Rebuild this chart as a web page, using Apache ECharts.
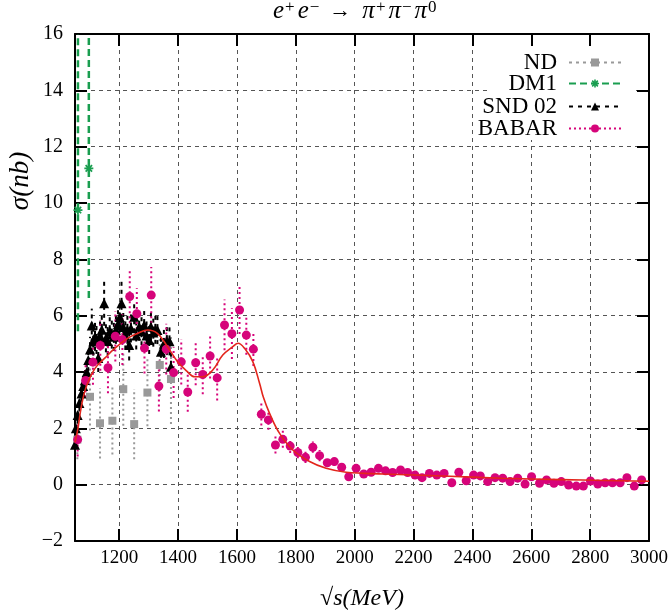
<!DOCTYPE html>
<html>
<head>
<meta charset="utf-8">
<title>e+e- → π+π-π0</title>
<script src="https://cdn.jsdelivr.net/npm/echarts@6/dist/echarts.min.js"></script>
<style>
html, body { margin: 0; padding: 0; background: #fff; }
#chart { width: 671px; height: 616px; }
</style>
</head>
<body>
<div id="chart"></div>
<script>
// ND
const ndX = [1058, 1101, 1135, 1177, 1214, 1251, 1296, 1338, 1376]
const ndY = [1.6, 3.12, 2.18, 2.27, 3.39, 2.15, 3.27, 4.25, 3.75]
const ndErr = [0.7, 1.2, 1.25, 1.2, 1.3, 1.25, 1.2, 1.1, 1.6]

// DM1
const dmX = [1060, 1097]
const dmY = [9.75, 11.23]
const dmErrLow = [4.3, 4.6]
const dmErrHigh = [6.25, 4.77]

// SND 02
const sndX = [1050, 1053, 1059, 1065, 1072, 1078, 1084, 1090, 1095, 1101,
  1107, 1112, 1118, 1123, 1129, 1135, 1141, 1149, 1155, 1161,
  1168, 1175, 1182, 1189, 1196, 1202, 1208, 1214, 1221, 1228,
  1234, 1240, 1251, 1258, 1268, 1276, 1285, 1293, 1302, 1308,
  1316, 1323, 1330, 1342, 1352, 1362, 1371, 1376]
const sndY = [1.42, 2.0, 2.47, 2.9, 3.24, 3.5, 3.72, 4.0, 4.43, 4.8,
  5.65, 5.08, 5.25, 5.14, 4.5, 5.3, 5.5, 6.44, 5.2, 5.1,
  5.45, 5.33, 5.25, 5.5, 5.7, 5.95, 6.44, 5.6, 5.3, 5.5,
  4.96, 5.55, 5.96, 5.3, 5.61, 5.45, 5.67, 5.3, 5.14, 5.61,
  5.4, 5.5, 5.49, 4.72, 5.0, 5.1, 5.09, 4.19]
const sndErr = [0.3, 0.3, 0.3, 0.3, 0.3, 0.35, 0.35, 0.4, 0.4, 0.45,
  0.6, 0.5, 0.5, 0.5, 0.5, 0.5, 0.5, 0.8, 0.5, 0.5,
  0.5, 0.5, 0.5, 0.5, 0.5, 0.55, 0.8, 0.5, 0.5, 0.5,
  0.55, 0.5, 0.55, 0.5, 0.5, 0.5, 0.5, 0.5, 0.5, 0.5,
  0.5, 0.5, 0.5, 0.5, 0.5, 0.5, 0.5, 0.5]

// BABAR
const bbX = [1059, 1086, 1111, 1136, 1162, 1187, 1211, 1236, 1260, 1286,
  1309, 1335, 1360, 1385, 1411, 1433, 1460, 1484, 1509, 1533,
  1558, 1583, 1609, 1632, 1656, 1683, 1707, 1731, 1756, 1781,
  1807, 1833, 1858, 1881, 1907, 1931, 1956, 1980, 2005, 2031,
  2056, 2081, 2105, 2129, 2156, 2180, 2205, 2229, 2254, 2279,
  2304, 2330, 2354, 2379, 2404, 2427, 2452, 2477, 2503, 2528,
  2554, 2579, 2601, 2628, 2652, 2677, 2702, 2727, 2753, 2777,
  2801, 2826, 2851, 2876, 2902, 2925, 2950, 2975]
const bbY = [1.6, 3.7, 4.35, 4.94, 4.15, 5.27, 5.15, 6.68, 6.07, 4.85,
  6.73, 3.5, 4.81, 3.98, 4.36, 3.29, 4.33, 3.91, 4.57, 3.79,
  5.67, 5.36, 6.2, 5.31, 4.81, 2.5, 2.3, 1.41, 1.61, 1.37,
  1.14, 0.97, 1.33, 1.03, 0.78, 0.82, 0.62, 0.28, 0.58, 0.38,
  0.44, 0.58, 0.49, 0.43, 0.52, 0.43, 0.34, 0.25, 0.4, 0.34,
  0.4, 0.07, 0.44, 0.14, 0.34, 0.31, 0.11, 0.25, 0.23, 0.11,
  0.23, 0.02, 0.28, 0.05, 0.17, 0.05, 0.11, -0.01, -0.05, -0.05,
  0.13, 0.02, 0.07, 0.07, 0.07, 0.25, -0.05, 0.17]
const bbErr = [0.6, 0.6, 0.8, 0.9, 0.9, 0.9, 0.9, 0.95, 0.9, 0.9,
  1.0, 0.9, 0.9, 0.9, 0.8, 0.7, 0.8, 0.7, 0.8, 0.8,
  0.9, 0.9, 0.85, 0.7, 0.6, 0.4, 0.35, 0.3, 0.3, 0.25,
  0.2, 0.2, 0.2, 0.2, 0.15, 0.15, 0.15, 0.15, 0.12, 0.1,
  0.1, 0.1, 0.1, 0.1, 0.1, 0.1, 0.1, 0.1, 0.1, 0.1,
  0.1, 0.1, 0.1, 0.1, 0.1, 0.1, 0.1, 0.1, 0.1, 0.1,
  0.1, 0.1, 0.1, 0.1, 0.1, 0.1, 0.1, 0.1, 0.1, 0.1,
  0.1, 0.1, 0.1, 0.1, 0.1, 0.1, 0.1, 0.1]

// fit curve
const fitX = [1050, 1060, 1072, 1089, 1118, 1152, 1185, 1230, 1263, 1297,
  1330, 1364, 1398, 1430, 1456, 1484, 1518, 1552, 1586, 1604,
  1626, 1654, 1677, 1690, 1711, 1745, 1790, 1847, 1903, 1971,
  2100, 2300, 2500, 2700, 2850, 3000]
const fitY = [1.5, 2.0, 2.8, 3.5, 4.13, 4.5, 4.84, 5.2, 5.37, 5.49,
  5.37, 4.9, 4.37, 4.03, 3.83, 3.83, 4.07, 4.6, 4.9, 5.02,
  4.84, 4.37, 3.6, 3.1, 2.53, 1.82, 1.23, 0.82, 0.58, 0.44,
  0.38, 0.31, 0.23, 0.18, 0.15, 0.12]

const FONT = '"Liberation Serif", "DejaVu Serif", serif'
const ND_C = "#999999"
const DM_C = "#1a9e50"
const SND_C = "#000000"
const BB_C = "#d6047a"
const FIT_C = "#e3261c"
const STAR = "path://M3.2,0H4.8V2.1L6.3,0.6L7.4,1.7L5.9,3.2H8V4.8H5.9L7.4,6.3L6.3,7.4L4.8,5.9V8H3.2V5.9L1.7,7.4L0.6,6.3L2.1,4.8H0V3.2H2.1L0.6,1.7L1.7,0.6L3.2,2.1Z"

function points(xs, ys) {
  return xs.map((x, i) => [x, ys[i]])
}

function bars(xs, ys, lo, hi) {
  return xs.map((x, i) => [x, ys[i] - lo[i], ys[i] + hi[i]])
}

function errorSeries(data, color, dash, width) {
  return {
    type: "custom",
    data: data,
    silent: true,
    z: 2,
    encode: { x: 0, y: [1, 2] },
    renderItem: (params, api) => {
      const a = api.coord([api.value(0), api.value(1)])
      const b = api.coord([api.value(0), api.value(2)])
      return {
        type: "line",
        shape: { x1: a[0], y1: a[1], x2: b[0], y2: b[1] },
        style: { stroke: color, lineWidth: width, lineDash: dash },
      }
    },
  }
}

function markerSeries(name, data, symbol, size, color, z) {
  return {
    name: name,
    type: "line",
    data: data,
    symbol: symbol,
    symbolSize: size,
    showSymbol: true,
    silent: true,
    z: z,
    itemStyle: { color: color, opacity: 1 },
    lineStyle: { opacity: 0, width: 2, color: color },
  }
}

function legendRow(name, top, color, dash) {
  return {
    data: [name],
    orient: "vertical",
    align: "right",
    right: 49,
    top: top,
    padding: 0,
    itemWidth: 52,
    itemHeight: 10,
    selectedMode: false,
    textStyle: { fontFamily: FONT, fontSize: 23, color: "#000", padding: [0, 7, 0, 0] },
    lineStyle: { color: color, type: dash, width: 2, opacity: 1 },
  }
}

const tickStyle = { color: "#000", width: 2 }

const chart = echarts.init(document.getElementById("chart"))
const option = {
  animation: false,
  backgroundColor: "#fff",
  title: {
    text: "{i|e}{p|+}{i|e}{p|\u2212}{a|\u2192}{i|\u03c0}{p|+}{i|\u03c0}{p|\u2212}{i|\u03c0}{p|0}",
    left: 272,
    top: -1,
    padding: 0,
    textStyle: {
      fontFamily: FONT,
      fontSize: 25,
      fontWeight: "normal",
      color: "#000",
      rich: {
        i: { fontFamily: FONT, fontSize: 25, fontStyle: "italic", color: "#000", padding: [0, 1, 0, 1] },
        p: { fontFamily: FONT, fontSize: 17, verticalAlign: "top", color: "#000", padding: [0, 2, 0, 0] },
        a: { fontFamily: FONT, fontSize: 22, color: "#000", padding: [0, 10, 0, 8] },
      },
    },
  },
  legend: [
    legendRow("ND", 51, ND_C, [3, 4]),
    legendRow("DM1", 72, DM_C, [7, 4]),
    legendRow("SND 02", 95, SND_C, [4, 5]),
    legendRow("BABAR", 117, BB_C, [2, 3]),
  ],
  grid: { left: 75, right: 22, top: 34, bottom: 75 },
  xAxis: [
    {
      type: "value",
      min: 1050,
      max: 3000,
      splitNumber: 10,
      name: "\u221as(MeV)",
      nameLocation: "middle",
      nameGap: 46,
      nameTextStyle: { fontFamily: FONT, fontSize: 24, fontStyle: "italic", color: "#000" },
      axisLine: { onZero: false, lineStyle: tickStyle },
      axisTick: { inside: true, length: 12, lineStyle: tickStyle },
      axisLabel: {
        showMinLabel: false,
        margin: 8,
        fontFamily: FONT,
        fontSize: 19,
        color: "#000",
        formatter: (v) => String(v),
      },
      splitLine: { show: true, lineStyle: { color: "#555", type: [4, 4], width: 1 } },
    },
    {
      type: "value",
      position: "top",
      min: 1050,
      max: 3000,
      splitNumber: 10,
      axisLine: { onZero: false, lineStyle: tickStyle },
      axisTick: { inside: true, length: 12, lineStyle: tickStyle },
      axisLabel: { show: false },
      splitLine: { show: false },
    },
  ],
  yAxis: [
    {
      type: "value",
      min: -2,
      max: 16,
      interval: 2,
      axisLine: { onZero: false, lineStyle: tickStyle },
      axisTick: { inside: true, length: 12, lineStyle: tickStyle },
      axisLabel: {
        margin: 12,
        fontFamily: FONT,
        fontSize: 20,
        color: "#000",
        formatter: (v) => String(v).replace("-", "\u2212"),
      },
      splitLine: { show: true, lineStyle: { color: "#555", type: [4, 4], width: 1 } },
    },
    {
      type: "value",
      position: "right",
      min: -2,
      max: 16,
      interval: 2,
      axisLine: { onZero: false, lineStyle: tickStyle },
      axisTick: { inside: true, length: 12, lineStyle: tickStyle },
      axisLabel: { show: false },
      splitLine: { show: false },
    },
  ],
  graphic: [
    {
      type: "rect",
      z: 1,
      shape: { x: 488, y: 47, width: 148, height: 93 },
      style: { fill: "#fff" },
      silent: true,
    },
    {
      type: "text",
      x: 21,
      y: 181,
      rotation: Math.PI / 2,
      style: {
        text: "\u03c3(nb)",
        font: 'italic 27px "Liberation Serif", "DejaVu Serif", serif',
        fill: "#000",
        align: "center",
        verticalAlign: "middle",
        textAlign: "center",
        textVerticalAlign: "middle",
      },
    },
  ],
  series: [
    errorSeries(bars(ndX, ndY, ndErr, ndErr), ND_C, [2, 3], 2),
    markerSeries("ND", points(ndX, ndY), "rect", 8, ND_C, 3),
    errorSeries(bars(dmX, dmY, dmErrLow, dmErrHigh), DM_C, [7, 4], 2.5),
    markerSeries("DM1", points(dmX, dmY), STAR, 9, DM_C, 3),
    errorSeries(bars(sndX, sndY, sndErr, sndErr), SND_C, [4, 4], 2),
    markerSeries("SND 02", points(sndX, sndY), "triangle", 10, SND_C, 4),
    errorSeries(bars(bbX, bbY, bbErr, bbErr), BB_C, [2, 3], 2),
    markerSeries("BABAR", points(bbX, bbY), "circle", 9, BB_C, 5),
    {
      type: "line",
      data: points(fitX, fitY),
      smooth: 0.4,
      showSymbol: false,
      symbol: "none",
      silent: true,
      z: 6,
      lineStyle: { color: FIT_C, width: 1.6 },
    },
  ],
}
chart.setOption(option)
</script>
</body>
</html>
